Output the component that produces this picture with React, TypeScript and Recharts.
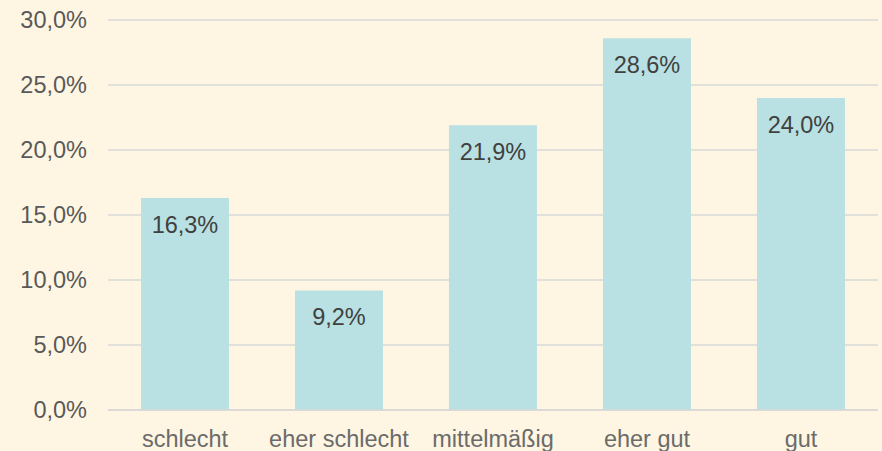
import React from 'react';
import { BarChart, Bar, XAxis, YAxis, CartesianGrid, LabelList } from 'recharts';

const categories = ['schlecht', 'eher schlecht', 'mittelmäßig', 'eher gut', 'gut'];
const shares = [16.3, 9.2, 21.9, 28.6, 24.0];
const yTicks = [0, 5, 10, 15, 20, 25, 30];

const fmt = (v: number) => `${v.toFixed(1).replace('.', ',')}%`;

const App: React.FC = () => {
  const data = categories.map((name, i) => ({ name, value: shares[i] }));

  return (
    <div style={{ position: 'absolute', top: 0, left: 0, width: 882, height: 451, background: '#FEF6E2', fontFamily: '"Liberation Sans", Arial, sans-serif' }}>
      <BarChart width={882} height={451} data={data} margin={{ top: 20, right: 4, left: 0, bottom: 0 }} barCategoryGap="21.4%">
        <CartesianGrid vertical={false} stroke="#D9D9D9" strokeWidth={1.5} />
        <XAxis
          dataKey="name"
          axisLine={{ stroke: '#D9D9D9', strokeWidth: 1.5 }}
          tickLine={false}
          tickSize={0}
          tickMargin={20}
          height={41}
          interval={0}
          tick={{ fontSize: 23.5, fill: '#6B6B6B' }}
        />
        <YAxis
          domain={[0, 30]}
          ticks={yTicks}
          tickFormatter={fmt}
          axisLine={false}
          tickLine={false}
          tickSize={0}
          tickMargin={21}
          width={108}
          tick={{ fontSize: 23.5, fill: '#595959' }}
        />
        <Bar dataKey="value" fill="#B9E0E2" isAnimationActive={false}>
          <LabelList dataKey="value" position="insideTop" offset={18} formatter={(v: number) => fmt(v)} style={{ fontSize: 23.5, fill: '#404040' }} />
        </Bar>
      </BarChart>
    </div>
  );
};

export default App;
